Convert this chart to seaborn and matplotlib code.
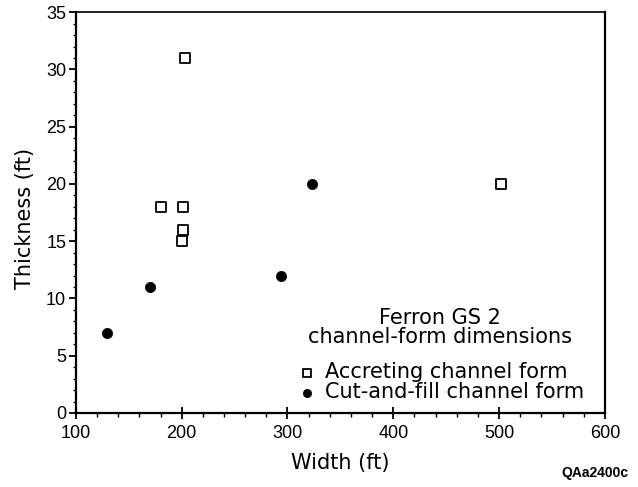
import matplotlib
matplotlib.use("Agg")
import matplotlib.pyplot as plt
import seaborn as sns
import pandas as pd
from matplotlib.ticker import MultipleLocator

# Data
acc_width = [203, 180, 201, 201, 200, 502]
acc_thick = [31, 18, 18, 16, 15, 20]
cut_width = [129, 170, 294, 323]
cut_thick = [7, 11, 12, 20]

acc_label = "Accreting channel form"
cut_label = "Cut-and-fill channel form"
legend_title = "Ferron GS 2\nchannel-form dimensions"
xlabel = "Width (ft)"
ylabel = "Thickness (ft)"
code = "QAa2400c"

sns.set_theme(style="ticks")
plt.rcParams["font.family"] = ["DejaVu Sans"]
plt.rcParams["text.color"] = "black"

acc = pd.DataFrame({"Width": acc_width, "Thickness": acc_thick})
cut = pd.DataFrame({"Width": cut_width, "Thickness": cut_thick})

fig = plt.figure(figsize=(6.38, 4.87), dpi=100)
ax = fig.add_axes([0.119, 0.152, 0.829, 0.823])

sns.scatterplot(data=acc, x="Width", y="Thickness", ax=ax, marker="s", s=45,
                facecolor="white", edgecolor="black", linewidth=1.3, label=acc_label)
sns.scatterplot(data=cut, x="Width", y="Thickness", ax=ax, marker="o", s=55,
                color="black", edgecolor="black", linewidth=0.5, label=cut_label)

ax.set_xlim(100, 600)
ax.set_ylim(0, 35)
ax.xaxis.set_major_locator(MultipleLocator(100))
ax.xaxis.set_minor_locator(MultipleLocator(20))
ax.yaxis.set_major_locator(MultipleLocator(5))
ax.yaxis.set_minor_locator(MultipleLocator(1))
ax.tick_params(axis="x", which="major", direction="inout", length=9, width=1.3, labelsize=13, colors="black", pad=4)
ax.tick_params(axis="x", which="minor", direction="out", length=3, width=1.0, colors="black")
ax.tick_params(axis="y", which="major", direction="out", length=5, width=1.3, labelsize=13, colors="black", pad=2)
ax.tick_params(axis="y", which="minor", direction="out", length=2, width=1.0, colors="black")
for lab in ax.get_xticklabels() + ax.get_yticklabels():
    lab.set_family("Liberation Sans")
for s in ax.spines.values():
    s.set_visible(True)
    s.set_linewidth(1.6)
    s.set_color("black")
ax.spines["top"].set_linewidth(1.2)

ax.set_xlabel(xlabel, fontsize=15, color="black", labelpad=8)
ax.set_ylabel(ylabel, fontsize=15, color="black")
ax.yaxis.set_label_coords(-0.078, 0.485)

leg = ax.legend(title=legend_title, loc="lower right", bbox_to_anchor=(0.985, -0.005),
                frameon=False, fontsize=15, title_fontsize=15, handletextpad=0.4,
                borderaxespad=0.2, labelspacing=0.0, handlelength=1.0, markerscale=0.8)
leg.get_title().set_multialignment("center")
leg.get_title().set_linespacing(0.95)
leg.get_title().set_color("black")
leg._legend_box.sep = 11
for t in leg.get_texts():
    t.set_color("black")

fig.text(0.985, 0.015, code, ha="right", va="bottom", fontsize=10, fontweight="bold",
         color="black", family="Liberation Sans")

fig.savefig("out.png", dpi=100, facecolor="white")
